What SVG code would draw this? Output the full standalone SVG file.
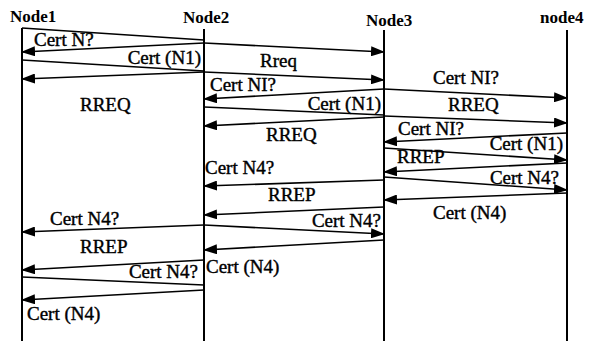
<svg xmlns="http://www.w3.org/2000/svg" width="596" height="341" viewBox="0 0 596 341">
<style>
.life{stroke:#000;stroke-width:2;fill:none}
.msg{stroke:#000;stroke-width:1.6;fill:none}
.arr{marker-end:url(#ah)}
text{font-family:'Liberation Serif','Times New Roman',serif;fill:#000}
.t{font-size:19px;stroke:#000;stroke-width:0.4}
.h{font-size:17px;font-weight:bold}
.e{text-anchor:end}
</style>
<defs>
<marker id="ah" markerUnits="userSpaceOnUse" markerWidth="14" markerHeight="10" viewBox="0 0 14 10" refX="13" refY="5" orient="auto">
<path d="M0,0 L14,5 L0,10 Z" fill="#000"/>
</marker>
</defs>
<rect width="596" height="341" fill="#fff"/>
<g id="node1"><line class="life" x1="22" y1="28" x2="22" y2="341"/><text class="h" x="10" y="22">Node1</text></g>
<g id="node2"><line class="life" x1="204" y1="29" x2="204" y2="341"/><text class="h" x="183" y="23">Node2</text></g>
<g id="node3"><line class="life" x1="384" y1="30" x2="384" y2="341"/><text class="h" x="366" y="26">Node3</text></g>
<g id="node4"><line class="life" x1="567" y1="30" x2="567" y2="341"/><text class="h" x="540" y="23">node4</text></g>
<g id="connectors">
<line class="msg" x1="22" y1="28" x2="204" y2="40"/>
<line class="msg arr" x1="204" y1="43" x2="22" y2="52"/>
<line class="msg arr" x1="204" y1="43" x2="384" y2="52"/>
<line class="msg" x1="22" y1="60" x2="204" y2="71"/>
<line class="msg arr" x1="204" y1="72" x2="384" y2="80"/>
<line class="msg arr" x1="204" y1="72" x2="22" y2="79"/>
<line class="msg arr" x1="384" y1="89" x2="204" y2="99"/>
<line class="msg arr" x1="384" y1="89" x2="567" y2="98"/>
<line class="msg" x1="204" y1="107" x2="384" y2="115"/>
<line class="msg arr" x1="384" y1="116" x2="567" y2="123"/>
<line class="msg arr" x1="384" y1="117" x2="204" y2="126"/>
<line class="msg arr" x1="567" y1="133" x2="384" y2="142"/>
<line class="msg arr" x1="384" y1="148" x2="567" y2="160"/>
<line class="msg arr" x1="567" y1="163" x2="384" y2="172"/>
<line class="msg arr" x1="384" y1="177" x2="567" y2="190"/>
<line class="msg arr" x1="567" y1="193" x2="384" y2="200"/>
<line class="msg arr" x1="384" y1="180" x2="204" y2="186"/>
<line class="msg arr" x1="384" y1="207" x2="204" y2="215"/>
<line class="msg arr" x1="204" y1="225" x2="22" y2="232"/>
<line class="msg arr" x1="204" y1="225" x2="384" y2="234"/>
<line class="msg arr" x1="384" y1="240" x2="204" y2="250"/>
<line class="msg arr" x1="204" y1="260" x2="22" y2="270"/>
<line class="msg" x1="22" y1="277" x2="204" y2="285"/>
<line class="msg arr" x1="204" y1="290" x2="22" y2="300"/>
</g>
<g id="labels">
<text class="t" x="34" y="46">Cert N?</text>
<text class="t e" x="201" y="64">Cert (N1)</text>
<text class="t" x="260" y="67">Rreq</text>
<text class="t" x="80" y="111">RREQ</text>
<text class="t" x="210" y="91">Cert NI?</text>
<text class="t" x="433" y="84">Cert NI?</text>
<text class="t e" x="381" y="110">Cert (N1)</text>
<text class="t" x="448" y="111">RREQ</text>
<text class="t" x="266" y="141">RREQ</text>
<text class="t" x="398" y="135">Cert NI?</text>
<text class="t e" x="563" y="150">Cert (N1)</text>
<text class="t" x="397" y="163">RREP</text>
<text class="t e" x="559" y="184">Cert N4?</text>
<text class="t" x="205" y="174">Cert N4?</text>
<text class="t" x="268" y="201">RREP</text>
<text class="t" x="433" y="219">Cert (N4)</text>
<text class="t" x="50" y="225">Cert N4?</text>
<text class="t e" x="381" y="227">Cert N4?</text>
<text class="t" x="80" y="253">RREP</text>
<text class="t e" x="198" y="278">Cert N4?</text>
<text class="t" x="206" y="273">Cert (N4)</text>
<text class="t" x="27" y="320">Cert (N4)</text>
</g>
</svg>
